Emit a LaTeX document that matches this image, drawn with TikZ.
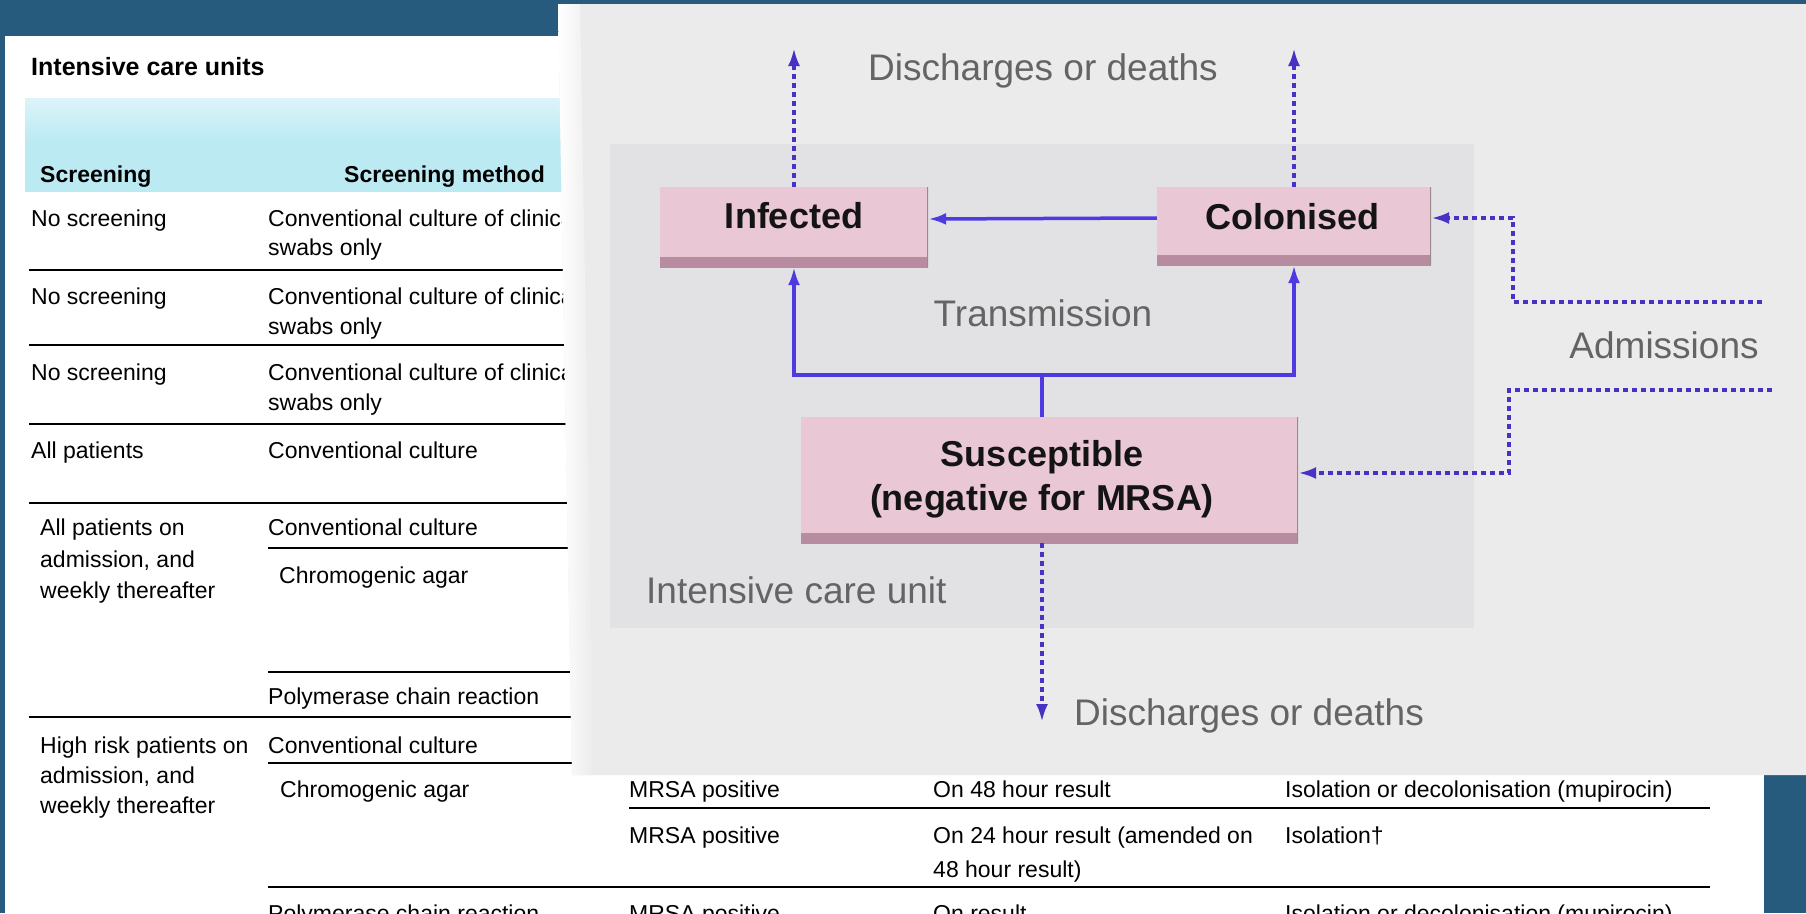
\documentclass[tikz,border=0pt]{standalone}
\usepackage{fontspec}
\setmainfont{Liberation Sans}
\usetikzlibrary{arrows.meta,calc}
\definecolor{bgblue}{RGB}{39,91,126}
\definecolor{panelgray}{RGB}{235,235,235}
\definecolor{icugray}{RGB}{226,226,228}
\definecolor{pinkfill}{RGB}{233,199,213}
\definecolor{mauve}{RGB}{184,140,160}
\definecolor{edgegray}{RGB}{150,140,142}
\definecolor{flowblue}{RGB}{78,58,225}
\definecolor{dotblue}{RGB}{70,50,195}
\definecolor{labelgray}{RGB}{100,100,100}
\definecolor{headcyan}{RGB}{188,234,243}
\definecolor{headcyanlight}{RGB}{220,244,249}
\begin{document}
\begin{tikzpicture}[x=1pt,y=-1pt,
  tc/.style={anchor=base west,inner sep=0pt,font=\fontsize{23}{27}\selectfont},
  th/.style={anchor=base west,inner sep=0pt,font=\bfseries\fontsize{23}{27}\selectfont},
  rulel/.style={line width=2.6pt,black},
  statebox/.style={fill=pinkfill,inner sep=0pt,path picture={
      \fill[mauve] ([yshift=-1pt]path picture bounding box.south west) rectangle ([yshift=10pt]path picture bounding box.south east);
      \draw[edgegray,line width=3pt] (path picture bounding box.north east) -- (path picture bounding box.south east);}},
  statetext/.style={anchor=base,inner sep=0pt,font=\bfseries\fontsize{36}{44}\selectfont,text=black!92},
  lbl/.style={inner sep=0pt,text=labelgray,font=\fontsize{37}{44}\selectfont},
  flow/.style={draw=flowblue,line width=3.5pt,-{Latex[length=18pt,width=12pt]}},
  flowline/.style={draw=flowblue,line width=3.5pt},
  dotflow/.style={draw=dotblue,line width=3.5pt,dash pattern=on 5pt off 4pt,-{Latex[length=18pt,width=12pt]}},
  dotline/.style={draw=dotblue,line width=3.5pt,dash pattern=on 5pt off 4pt}
]
\useasboundingbox (0,0) rectangle (1806,913);
\clip (0,0) rectangle (1806,913);
% background
\fill[bgblue] (0,0) rectangle (1806,913);
% table sheet
\fill[white] (5,36) rectangle (1764,913);
\shade[top color=headcyanlight,bottom color=headcyan] (25,98) rectangle (1710,140);
\fill[headcyan] (25,140) rectangle (1710,192);

\node[th,font=\bfseries\fontsize{25}{29}\selectfont] (title) at (31,75) {Intensive care units};
\node[th] (h1) at (40,182) {Screening};
\node[th] (h2) at (344,182) {Screening method};

\node[tc] (r1a) at (31,226) {No screening};
\node[tc] (r1b) at (268,226) {Conventional culture of clinical};
\node[tc] (r1c) at (268,255) {swabs only};
\draw[rulel] (29,270) -- (1710,270);
\node[tc] (r2a) at (31,304) {No screening};
\node[tc] (r2b) at (268,304) {Conventional culture of clinical};
\node[tc] (r2c) at (268,334) {swabs only};
\draw[rulel] (29,345) -- (1710,345);
\node[tc] (r3a) at (31,380) {No screening};
\node[tc] (r3b) at (268,380) {Conventional culture of clinical};
\node[tc] (r3c) at (268,410) {swabs only};
\draw[rulel] (29,424) -- (1710,424);
\node[tc] (r4a) at (31,458) {All patients};
\node[tc] (r4b) at (268,458) {Conventional culture};
\draw[rulel] (29,503) -- (1710,503);
\node[tc] (r5a) at (40,535) {All patients on};
\node[tc] (r5b) at (40,567) {admission, and};
\node[tc] (r5c) at (40,598) {weekly thereafter};
\node[tc] (r5d) at (268,535) {Conventional culture};
\draw[rulel] (268,548) -- (1710,548);
\node[tc] (r5e) at (279,583) {Chromogenic agar};
\draw[rulel] (268,672) -- (1710,672);
\node[tc] (r5f) at (268,704) {Polymerase chain reaction};
\draw[rulel] (29,717) -- (1710,717);
\node[tc] (r6a) at (40,753) {High risk patients on};
\node[tc] (r6b) at (40,783) {admission, and};
\node[tc] (r6c) at (40,813) {weekly thereafter};
\node[tc] (r6d) at (268,753) {Conventional culture};
\draw[rulel] (268,763) -- (1710,763);
\node[tc] (r6e) at (280,797) {Chromogenic agar};
\node[tc] (r6f) at (629,797) {MRSA positive};
\node[tc] (r6g) at (933,797) {On 48 hour result};
\node[tc] (r6h) at (1285,797) {Isolation or decolonisation (mupirocin)};
\draw[rulel] (629,808) -- (1710,808);
\node[tc] (r7a) at (629,843) {MRSA positive};
\node[tc] (r7b) at (933,843) {On 24 hour result (amended on};
\node[tc] (r7c) at (933,877) {48 hour result)};
\node[tc] (r7d) at (1285,843) {Isolation†};
\draw[rulel] (268,887) -- (1710,887);
\node[tc] (r8a) at (268,921) {Polymerase chain reaction};
\node[tc] (r8b) at (629,921) {MRSA positive};
\node[tc] (r8c) at (933,921) {On result};
\node[tc] (r8d) at (1285,921) {Isolation or decolonisation (mupirocin)};

% diagram panel
\fill[panelgray] (558,4) -- (1806,4) -- (1806,775) -- (572,775) -- cycle;
\shade[left color=white,right color=panelgray] (558,4) -- (580,4) -- (594,775) -- (572,775) -- cycle;
\fill[icugray] (610,144) rectangle (1474,628);

% state boxes
\node[statebox,minimum width=268pt,minimum height=80pt] (inf) at (794,227) {};
\node[statebox,minimum width=274pt,minimum height=78pt] (col) at (1294,226) {};
\node[statebox,minimum width=497pt,minimum height=126pt] (sus) at (1049.5,480) {};
\node[statetext] (inft) at (794,228) {Infected};
\node[statetext] (colt) at (1292,229) {Colonised};
\node[statetext] (sust1) at (1042,466) {Susceptible};
\node[statetext] (sust2) at (1042,510) {(negative for MRSA)};

% free ends
\coordinate (infout) at (794,48);
\coordinate (colout) at (1294,48);
\coordinate (susout) at (1042,722);
\coordinate (tj) at (1042,375);
\coordinate (a1) at (1762,302);
\coordinate (a2) at (1513,302);
\coordinate (b1) at (1772,390);
\coordinate (b2) at (1509,390);

% connectors
\draw[flow] ([yshift=8pt]col.west) -- ([yshift=8pt]inf.east);
\draw[flowline] (sus.north -| tj) -- (tj);
\draw[flow] (tj) -| (inf.south);
\draw[flow] (tj) -| (col.south);
\draw[dotflow] (inf.north) -- (infout);
\draw[dotflow] (col.north) -- (colout);
\draw[dotflow] (sus.south -| susout) -- (susout);
\draw[dotflow] (a1) -- (a2) |- ([yshift=8pt]col.east);
\draw[dotflow] (b1) -- (b2) |- ([yshift=7pt]sus.east);

% labels
\node[lbl,anchor=base] (dtop) at (1043,80) {Discharges or deaths};
\node[lbl,anchor=base] (trans) at (1043,326) {Transmission};
\node[lbl,anchor=base] (adm) at (1664,358) {Admissions};
\node[lbl,anchor=base west] (icu) at (646,603) {Intensive care unit};
\node[lbl,anchor=base west] (dbot) at (1074,725) {Discharges or deaths};
\end{tikzpicture}
\end{document}
